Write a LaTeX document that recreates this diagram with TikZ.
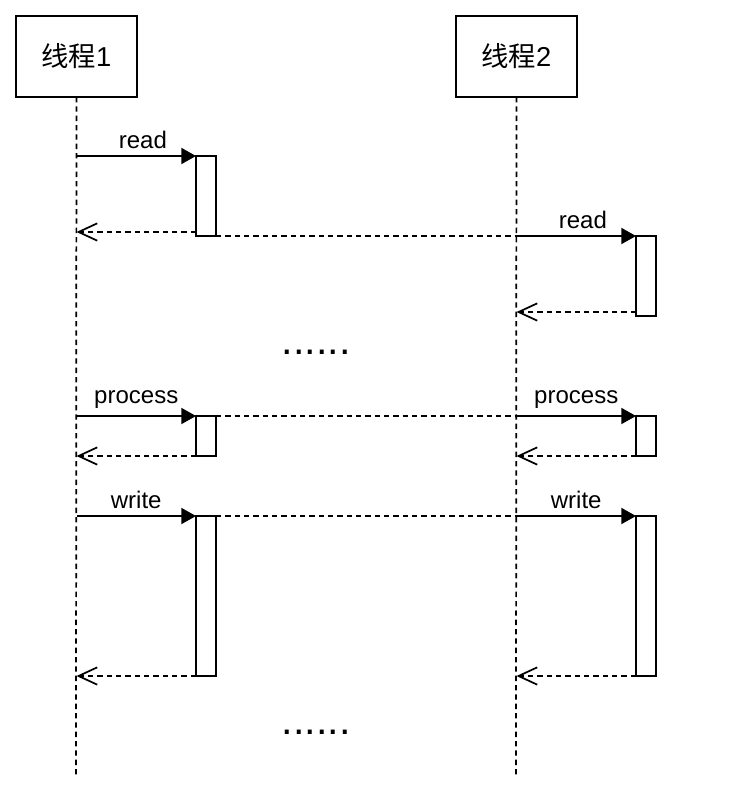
\documentclass[tikz,border=0pt]{standalone}
\usepackage{fontspec}
\setmainfont{Liberation Sans}
\newfontfamily\cjk{Noto Sans CJK SC}
\usetikzlibrary{arrows.meta}

\begin{document}
\begin{tikzpicture}[x=0.75pt,y=-0.75pt,line width=1.3pt]
\tikzstyle{every node}=[font=\fontsize{18}{21}\selectfont]
\tikzstyle{head}=[draw,line width=1.5pt,minimum width=90.75pt,minimum height=60.75pt,inner sep=0pt,outer sep=0pt,font=\fontsize{20.5}{24}\selectfont]
\tikzstyle{bar}=[draw,line width=1.5pt,minimum width=15pt,inner sep=0pt,outer sep=0pt,anchor=north west]
\tikzstyle{call}=[-{Triangle[length=11pt,width=12pt]}]
\tikzstyle{ret}=[dash pattern=on 4pt off 3pt,-{Straight Barb[length=14pt,width=13pt]}]
\tikzstyle{link}=[dash pattern=on 4pt off 3pt]
\tikzstyle{dots}=[font=\fontsize{31}{31}\selectfont,anchor=base,inner sep=0pt]
\useasboundingbox (0,0) rectangle (734,794);
% threads and lifelines
\node[head] (t1) at (76.5,56.5) {{\cjk 线程}1};
\node[head] (t2) at (516.5,56.5) {{\cjk 线程}2};
\coordinate (e1) at (76,775);
\coordinate (e2) at (516,775);
\draw[link] (t1) -- (e1);
\draw[link] (t2) -- (e2);
% activation bars
\node[bar,minimum height=60pt] (r1) at (196,156) {};
\node[bar,minimum height=60pt] (r2) at (636,236) {};
\node[bar,minimum height=30pt] (p1) at (196,416) {};
\node[bar,minimum height=30pt] (p2) at (636,416) {};
\node[bar,minimum height=120pt] (w1) at (196,516) {};
\node[bar,minimum height=120pt] (w2) at (636,516) {};
% read
\draw[call] (t1 |- r1.north west) -- (r1.north west) node[midway,above,xshift=5pt,inner sep=5pt]{read};
\coordinate (b1) at ([yshift=3pt]r1.south west);
\draw[ret] (b1) -- (t1 |- b1);
\draw[link] (r1.south east) -- (t2 |- r1.south east);
\draw[call] (t2 |- r2.north west) -- (r2.north west) node[midway,above,xshift=5pt,inner sep=5pt]{read};
\coordinate (b2) at ([yshift=3pt]r2.south west);
\draw[ret] (b2) -- (t2 |- b2);
\node[dots] (d1) at (316,354) {......};
% process
\draw[call] (t1 |- p1.north west) -- (p1.north west) node[midway,above,inner sep=5pt]{process};
\draw[ret] (p1.south west) -- (t1 |- p1.south west);
\draw[link] (p1.north east) -- (t2 |- p1.north east);
\draw[call] (t2 |- p2.north west) -- (p2.north west) node[midway,above,inner sep=5pt]{process};
\draw[ret] (p2.south west) -- (t2 |- p2.south west);
% write
\draw[call] (t1 |- w1.north west) -- (w1.north west) node[midway,above,inner sep=5pt]{write};
\draw[ret] (w1.south west) -- (t1 |- w1.south west);
\draw[link] (w1.north east) -- (t2 |- w1.north east);
\draw[call] (t2 |- w2.north west) -- (w2.north west) node[midway,above,inner sep=5pt]{write};
\draw[ret] (w2.south west) -- (t2 |- w2.south west);
\node[dots] (d2) at (316,734) {......};
\end{tikzpicture}
\end{document}
